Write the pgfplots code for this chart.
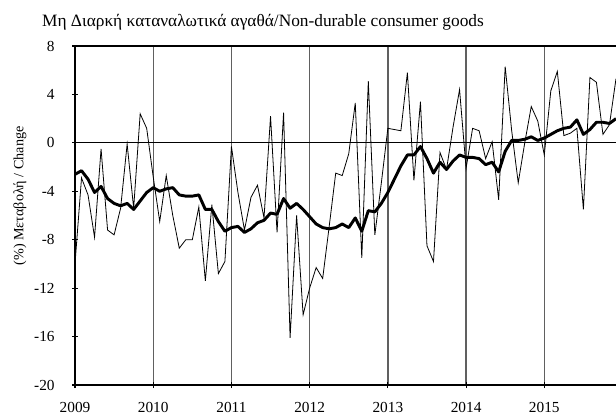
\documentclass[border=0pt]{standalone}
\usepackage{pgfplots}
\usepackage{pgfplotstable}
\pgfplotsset{compat=1.18}
\usepackage{fontspec}
\setmainfont{Liberation Serif}

% month index (0 = Jan 2009), monthly change, smoothed trend
\pgfplotstableread{
m  v      t
0  -10.0  -2.6
1  -2.9   -2.3
2  -4.3   -3.0
3  -7.8   -4.1
4  -0.5   -3.6
5  -7.2   -4.6
6  -7.6   -5.0
7  -5.4   -5.2
8  -0.1   -5.0
9  -5.4   -5.5
10  2.4   -4.8
11  1.2   -4.1
12 -2.8   -3.7
13 -6.5   -4.0
14 -2.7   -3.8
15 -6.0   -3.7
16 -8.7   -4.3
17 -8.0   -4.4
18 -8.0   -4.4
19 -5.3   -4.3
20 -11.4  -5.5
21 -5.1   -5.5
22 -10.8  -6.5
23 -9.8   -7.3
24 -0.3   -7.0
25 -4.1   -6.9
26 -7.2   -7.4
27 -4.5   -7.1
28 -3.5   -6.6
29 -6.2   -6.4
30  2.2   -5.8
31 -7.4   -5.9
32  2.5   -4.6
33 -16.1  -5.4
34 -6.0   -5.0
35 -14.2  -5.5
36 -12.0  -6.1
37 -10.3  -6.7
38 -11.2  -7.0
39 -6.9   -7.1
40 -2.5   -7.0
41 -2.7   -6.7
42 -0.9   -7.0
43  3.3   -6.2
44 -9.5   -7.3
45  5.1   -5.6
46 -7.6   -5.7
47 -3.3   -5.0
48  1.2   -4.1
49  1.1   -3.0
50  1.0   -1.9
51  5.8   -1.0
52 -3.1   -1.0
53  3.4   -0.3
54 -8.5   -1.3
55 -9.8   -2.5
56 -0.8   -1.6
57 -2.2   -2.2
58  1.3   -1.5
59  4.4   -1.0
60 -2.1   -1.2
61  1.2   -1.2
62  1.0   -1.3
63 -1.3   -1.8
64  0.1   -1.6
65 -4.7   -2.4
66  6.3   -0.7
67  1.0    0.2
68 -3.3    0.2
69  0.0    0.3
70  3.0    0.5
71  1.8    0.2
72 -1.0    0.4
73  4.3    0.7
74  5.9    1.0
75  0.6    1.2
76  0.8    1.3
77  1.2    1.9
78 -5.5    0.7
79  5.4    1.1
80  5.0    1.7
81  0.7    1.7
82  1.5    1.6
83  5.3    2.0
}\goods

\begin{document}
\begin{tikzpicture}
\path[use as bounding box] (-56.25pt,-24.75pt) rectangle (405.75pt,288.75pt);
\begin{axis}[
  at={(0,0)}, anchor=south west,
  scale only axis, width=405.75pt, height=254.25pt,
  xmin=2009, xmax=2015.9167, ymin=-20, ymax=8,
  axis lines*=left,
  axis line style={line width=1pt, black},
  xtick={2009,2010,2011,2012,2013,2014,2015},
  xticklabels={2009,2010,2011,2012,2013,2014,2015},
  ytick={-20,-16,-12,-8,-4,0,4,8},
  yticklabels={-20,-16,-12,-8,-4,0,4,8},
  tick align=center, major tick length=4.5pt,
  tick style={black, line width=0.8pt},
  xmajorgrids, grid style={gray!75!black, line width=1pt},
  ticklabel style={font=\fontsize{11.5}{13}\selectfont},
  xticklabel style={yshift=-7pt},
  yticklabel style={xshift=-9.5pt},
  clip=false,
]
\draw[black, line width=1pt] (rel axis cs:0,1) -- (rel axis cs:1,1);
\draw[black, line width=0.8pt] (axis cs:2009,0) -- (axis cs:2015.9167,0);
\addplot[black, line width=0.6pt] table[x expr=2009+\thisrow{m}/12, y=v] {\goods};
\addplot[black, line width=2.2pt, line join=round] table[x expr=2009+\thisrow{m}/12, y=t] {\goods};
\end{axis}
\node[font=\fontsize{13}{15}\selectfont] at (141pt,272pt) {Μη Διαρκή καταναλωτικά αγαθά/Non-durable consumer goods};
\node[font=\fontsize{10.6}{12}\selectfont, rotate=90] at (-41.25pt,141.75pt) {(\%) Μεταβολή / Change};
\end{tikzpicture}
\end{document}
